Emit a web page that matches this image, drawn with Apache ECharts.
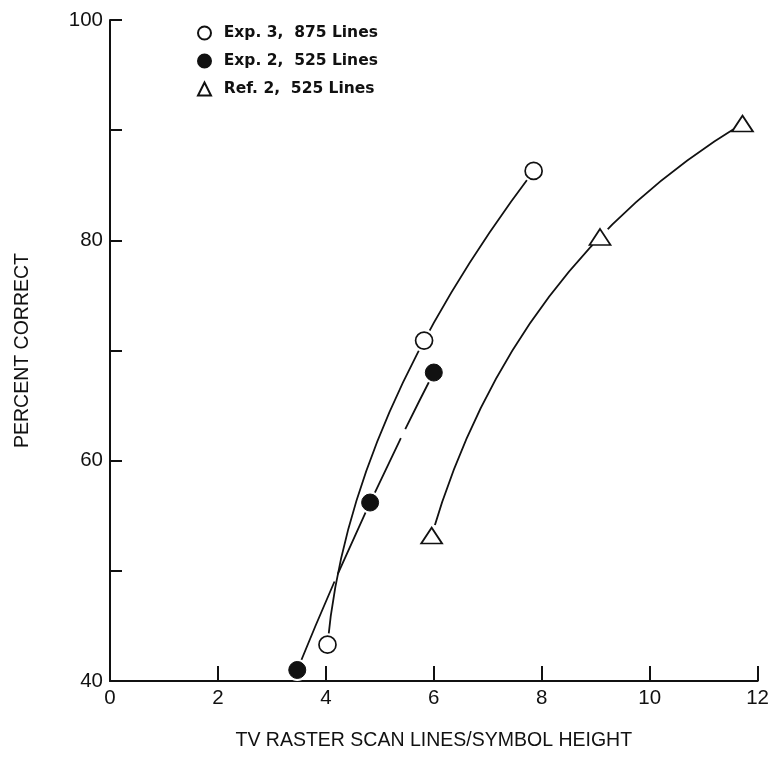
<!DOCTYPE html>
<html>
<head>
<meta charset="utf-8">
<script src="https://cdn.jsdelivr.net/npm/echarts@6/dist/echarts.min.js"></script>
<style>
  html, body { margin: 0; padding: 0; background: #fff; }
  #chart { width: 772px; height: 760px; }
</style>
</head>
<body>
<div id="chart"></div>
<script>
// Scan lines per symbol height vs. percent correct
const exp3Lines875 = [[4.03, 43.3], [5.82, 70.9], [7.85, 86.3]];
const exp2Lines525 = [[3.47, 41.0], [4.82, 56.2], [6.0, 68.0]];
const ref2Lines525 = [[5.96, 53.2], [9.08, 80.3], [11.72, 90.6]];

const seriesNames = ['Exp. 3,  875 Lines', 'Exp. 2,  525 Lines', 'Ref. 2,  525 Lines'];
const xTickLabels = [0, 2, 4, 6, 8, 10, 12];
const yTickLabels = [40, 60, 80, 100];

const xAxisTitle = 'TV RASTER SCAN LINES/SYMBOL HEIGHT';
const yAxisTitle = 'PERCENT CORRECT';

const ink = '#111';
const font = 'Liberation Sans, Arial, sans-serif';

// Hand-drawn style fit: one quadratic Bezier through the three points of a
// series. tMid is the curve parameter at the middle point (chord length if null).
function fitCurve(points, tMid, lineDash) {
  return {
    type: 'custom',
    coordinateSystem: 'cartesian2d',
    data: points,
    encode: { x: 0, y: 1 },
    silent: true,
    z: 2,
    renderItem: function (params, api) {
      if (params.dataIndex !== 0) return;
      const p = points.map(d => api.coord(d));
      const dist = (a, b) => Math.hypot(b[0] - a[0], b[1] - a[1]);
      const l0 = dist(p[0], p[1]);
      const l1 = dist(p[1], p[2]);
      const t = tMid != null ? tMid : l0 / (l0 + l1);
      const k = 2 * t * (1 - t);
      const cx = (p[1][0] - (1 - t) * (1 - t) * p[0][0] - t * t * p[2][0]) / k;
      const cy = (p[1][1] - (1 - t) * (1 - t) * p[0][1] - t * t * p[2][1]) / k;
      return {
        type: 'bezierCurve',
        shape: { x1: p[0][0], y1: p[0][1], x2: p[2][0], y2: p[2][1], cpx1: cx, cpy1: cy },
        style: { stroke: ink, lineWidth: 1.8, fill: null, lineDash: lineDash || null }
      };
    }
  };
}

// White ring under each marker so the curves stop just short of it
function halo(points, size) {
  return {
    type: 'scatter',
    data: points,
    symbol: 'circle',
    symbolSize: size,
    silent: true,
    itemStyle: { color: '#fff', opacity: 1 },
    z: 3
  };
}

const chart = echarts.init(document.getElementById('chart'), null, { renderer: 'canvas' });

chart.setOption({
  backgroundColor: '#fff',
  animation: false,
  grid: { left: 110, top: 20, width: 650, height: 661, containLabel: false },
  legend: {
    orient: 'vertical',
    left: 192,
    top: 20,
    itemGap: 12,
    itemWidth: 13,
    itemHeight: 13,
    formatter: name => '\u2002' + name,
    textStyle: { color: ink, fontFamily: 'DejaVu Sans, sans-serif', fontSize: 15.5, fontWeight: 'bold' },
    data: [
      { name: seriesNames[0], icon: 'circle' },
      { name: seriesNames[1], icon: 'circle' },
      { name: seriesNames[2], icon: 'triangle' }
    ]
  },
  xAxis: {
    type: 'value',
    min: 0,
    max: 12,
    interval: 2,
    name: xAxisTitle,
    nameLocation: 'middle',
    nameGap: 50,
    nameTextStyle: { color: ink, fontFamily: font, fontSize: 19.5 },
    axisLine: { show: true, onZero: false, lineStyle: { color: ink, width: 2 } },
    axisTick: { show: true, inside: true, length: 15, lineStyle: { color: ink, width: 2 } },
    axisLabel: {
      color: ink, fontFamily: font, fontSize: 20.5, margin: 7,
      formatter: v => xTickLabels.indexOf(v) >= 0 ? String(v) : ''
    },
    splitLine: { show: false }
  },
  yAxis: {
    type: 'value',
    min: 40,
    max: 100,
    interval: 10,
    name: yAxisTitle,
    nameLocation: 'middle',
    nameGap: 77,
    nameRotate: 90,
    nameTextStyle: { color: ink, fontFamily: font, fontSize: 19.5 },
    axisLine: { show: true, lineStyle: { color: ink, width: 2 } },
    axisTick: { show: true, inside: true, length: 12, lineStyle: { color: ink, width: 2 } },
    axisLabel: {
      color: ink, fontFamily: font, fontSize: 20.5, margin: 7,
      formatter: v => yTickLabels.indexOf(v) >= 0 ? String(v) : ''
    },
    splitLine: { show: false }
  },
  series: [
    fitCurve(exp3Lines875, 0.65),
    fitCurve(exp2Lines525, null, [96, 8, 150, 10, 400, 1]),
    fitCurve(ref2Lines525, null),
    halo(exp3Lines875, 23),
    halo(exp2Lines525, 22),
    halo(ref2Lines525, 22),
    {
      name: seriesNames[0],
      type: 'scatter',
      data: exp3Lines875,
      symbol: 'circle',
      symbolSize: 17,
      itemStyle: { color: '#fff', borderColor: ink, borderWidth: 1.7, opacity: 1 },
      z: 4
    },
    {
      name: seriesNames[1],
      type: 'scatter',
      data: exp2Lines525,
      symbol: 'circle',
      symbolSize: 17,
      itemStyle: { color: ink, borderColor: ink, borderWidth: 1, opacity: 1 },
      z: 4
    },
    {
      name: seriesNames[2],
      type: 'scatter',
      data: ref2Lines525,
      symbol: 'triangle',
      symbolSize: [21, 16],
      itemStyle: { color: '#fff', borderColor: ink, borderWidth: 1.7, opacity: 1 },
      z: 4
    }
  ]
});
</script>
</body>
</html>
